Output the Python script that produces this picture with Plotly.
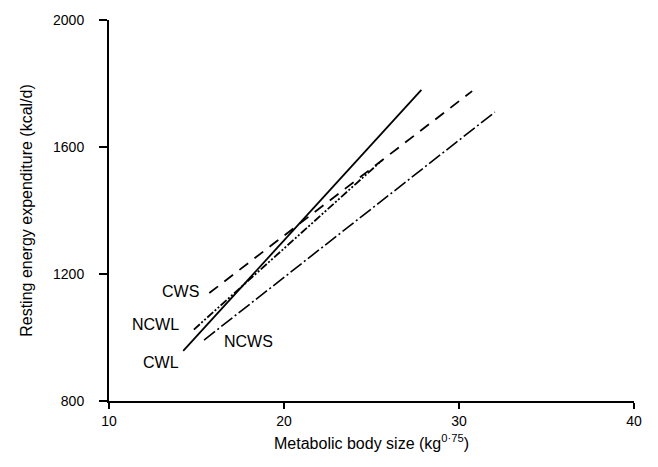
import plotly.graph_objects as go

# Regression line endpoints (metabolic body size kg^0.75, REE kcal/d)
cwl_x = [14.24, 27.85]
cwl_y = [958, 1780]
cws_x = [15.73, 30.75]
cws_y = [1140, 1776]
ncwl_x = [14.85, 25.6]
ncwl_y = [1025, 1558]
ncws_x = [15.43, 32.05]
ncws_y = [992, 1710]

labels = ["CWS", "NCWL", "CWL", "NCWS"]
label_x = [14.1, 12.65, 12.95, 17.95]
label_y = [1144, 1042, 922, 988]

x_ticks = [10, 20, 30, 40]
y_ticks = [800, 1200, 1600, 2000]

FONT = "Liberation Sans"

fig = go.Figure()
fig.add_trace(go.Scatter(x=cwl_x, y=cwl_y, mode="lines", name="CWL",
                         line=dict(color="black", width=1.8)))
fig.add_trace(go.Scatter(x=cws_x, y=cws_y, mode="lines", name="CWS",
                         line=dict(color="black", width=1.8, dash="11px,8px")))
fig.add_trace(go.Scatter(x=ncwl_x, y=ncwl_y, mode="lines", name="NCWL",
                         line=dict(color="black", width=1.8, dash="8px,2px,2px,2px,2px,2px")))
fig.add_trace(go.Scatter(x=ncws_x, y=ncws_y, mode="lines", name="NCWS",
                         line=dict(color="black", width=1.6, dash="14px,3px,2px,3px")))

for t, x, y in zip(labels, label_x, label_y):
    fig.add_annotation(x=x, y=y, text=t, showarrow=False,
                       font=dict(family=FONT, size=16, color="black"))

fig.update_layout(
    width=658, height=467,
    margin=dict(l=109, r=24, t=17, b=66),
    paper_bgcolor="white", plot_bgcolor="white",
    showlegend=False,
    font=dict(family=FONT, color="black"),
)
fig.update_xaxes(range=[10, 40], tickvals=x_ticks, showgrid=False, zeroline=False,
                 showline=True, linecolor="black", linewidth=2,
                 ticks="outside", ticklen=6, tickwidth=2, tickcolor="black",
                 tickfont=dict(family=FONT, size=14, color="black"),
                 title=dict(text="Metabolic body size (kg<sup>0·75</sup>)",
                            font=dict(family=FONT, size=16, color="black"),
                            standoff=10))
fig.update_yaxes(range=[800, 2000], tickvals=y_ticks, showgrid=False, zeroline=False,
                 showline=True, linecolor="black", linewidth=2,
                 ticks="outside", ticklen=8, tickwidth=2, tickcolor="black",
                 ticklabelstandoff=12,
                 tickfont=dict(family=FONT, size=14, color="black"),
                 title=dict(text="Resting energy expenditure (kcal/d)",
                            font=dict(family=FONT, size=16, color="black"),
                            standoff=16))

fig.write_html("out.html")
